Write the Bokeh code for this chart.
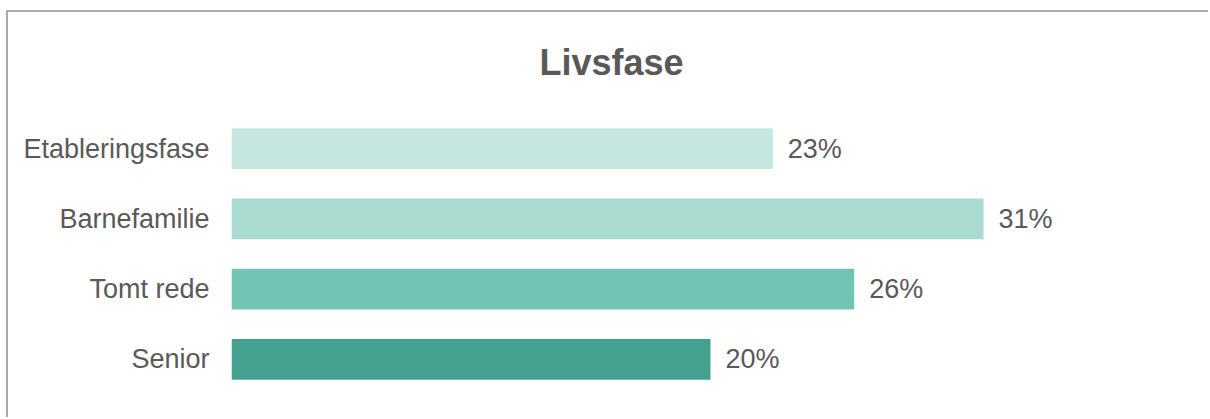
from bokeh.plotting import figure
from bokeh.models import ColumnDataSource, FactorRange, Range1d
from bokeh.core.properties import value
from bokeh.embed import file_html
from bokeh.resources import INLINE

categories = ["Etableringsfase", "Barnefamilie", "Tomt rede", "Senior"]
values = [22.6, 31.4, 26.0, 20.0]
value_labels = ["23%", "31%", "26%", "20%"]
colors = ["#C6E6E0", "#AADBD0", "#72C4B4", "#45A18F"]

TEXT = "#595959"
FONT = "Liberation Sans"

src = ColumnDataSource(dict(cat=categories, val=values, lab=value_labels, col=colors))

p = figure(
    width=1202, height=407,
    y_range=FactorRange(*reversed(categories), range_padding=0),
    x_range=Range1d(0, 40),
    output_backend="svg", toolbar_location=None,
    min_border_left=223, min_border_right=21, min_border_top=100, min_border_bottom=25,
)
p.margin = (12, 0, 0, 8)
p.styles = {"box-shadow": "-2px -2px 0 0 #ababab"}

p.hbar(y="cat", left=0, right="val", height=0.58, fill_color="col", line_color=None, source=src)
p.text(x="val", y="cat", text="lab", x_offset=15, text_baseline="middle", text_align="left",
       text_font=value(FONT), text_font_size="27px", text_color=TEXT, source=src)

p.title.text = "Livsfase"
p.title.align = "left"
p.title.vertical_align = "top"
p.title.offset = 308
p.title.text_font = FONT
p.title.text_font_size = "36px"
p.title.text_font_style = "bold"
p.title.text_color = TEXT
p.title.standoff = 58

p.xaxis.visible = False
yax = p.yaxis[0]
yax.axis_line_color = None
yax.major_tick_line_color = None
yax.minor_tick_line_color = None
yax.major_tick_out = 0
yax.major_label_standoff = 22
yax.major_label_text_font = FONT
yax.major_label_text_font_size = "27px"
yax.major_label_text_color = TEXT

p.xgrid.visible = False
p.ygrid.visible = False
p.outline_line_color = None
p.background_fill_color = "white"
p.border_fill_color = "white"

open("out.html", "w").write(file_html(p, INLINE))
